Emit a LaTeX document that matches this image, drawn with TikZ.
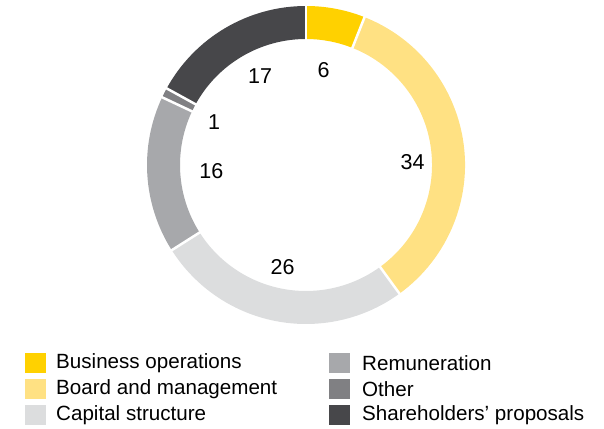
\documentclass[tikz,border=0pt]{standalone}
\usepackage{fontspec}
\setmainfont{Liberation Sans}
\usetikzlibrary{calc}
\definecolor{cBus}{HTML}{FFD100}
\definecolor{cBoard}{HTML}{FFE183}
\definecolor{cCap}{HTML}{DCDDDE}
\definecolor{cRem}{HTML}{A7A8AB}
\definecolor{cOther}{HTML}{808083}
\definecolor{cShare}{HTML}{47474A}
\tikzset{
  numlabel/.style={font=\fontsize{21.5}{25}\selectfont, text=black, inner sep=0pt},
  legtext/.style={font=\fontsize{20.6}{24}\selectfont, text=black, anchor=west, inner sep=0pt},
  legbox/.style={minimum width=21pt, minimum height=20pt, inner sep=0pt, anchor=west},
  sep/.style={draw=white, line width=2.5pt},
}
\newcommand{\ringseg}[3]{%
  \fill[#3] ([shift={(#1:159pt)}]ctr) arc[start angle=#1, end angle=#2, radius=159pt]
    -- ([shift={(#2:126pt)}]ctr) arc[start angle=#2, end angle=#1, radius=126pt] -- cycle;}
\begin{document}
\begin{tikzpicture}[x=1pt,y=1pt]
\useasboundingbox (0,0) rectangle (604,428);
\coordinate (ctr) at (306,263);
\ringseg{90}{68.4}{cBus}
\ringseg{68.4}{-54}{cBoard}
\ringseg{-54}{-147.6}{cCap}
\ringseg{-147.6}{-205.2}{cRem}
\ringseg{-205.2}{-208.8}{cOther}
\ringseg{-208.8}{-270}{cShare}
\foreach \a in {90,68.4,-54,-147.6,-205.2,-208.8}{
  \draw[sep] ([shift={(\a:123pt)}]ctr) -- ([shift={(\a:162pt)}]ctr);
}
% value labels
\node[numlabel] (v6) at (323.5,358) {6};
\node[numlabel] (v34) at (412.5,265.5) {34};
\node[numlabel] (v26) at (282.5,160.5) {26};
\node[numlabel] (v16) at (211.3,257.2) {16};
\node[numlabel] (v1) at (214,305.5) {1};
\node[numlabel] (v17) at (260,352.2) {17};
% legend
\node[legbox, fill=cBus] (b1) at (25,65) {};
\node[legbox, fill=cBoard] (b2) at (25,39) {};
\node[legbox, fill=cCap] (b3) at (25,13) {};
\node[legbox, fill=cRem] (b4) at (329,65) {};
\node[legbox, fill=cOther] (b5) at (329,39) {};
\node[legbox, fill=cShare] (b6) at (329,13) {};
\node[legtext] (t1) at (56,65) {Business operations};
\node[legtext] (t2) at (56,39) {Board and management};
\node[legtext] (t3) at (56,13) {Capital structure};
\node[legtext] (t4) at (362,65) {Remuneration};
\node[legtext] (t5) at (362,39) {Other};
\node[legtext] (t6) at (362,13) {Shareholders’ proposals};
\end{tikzpicture}
\end{document}
